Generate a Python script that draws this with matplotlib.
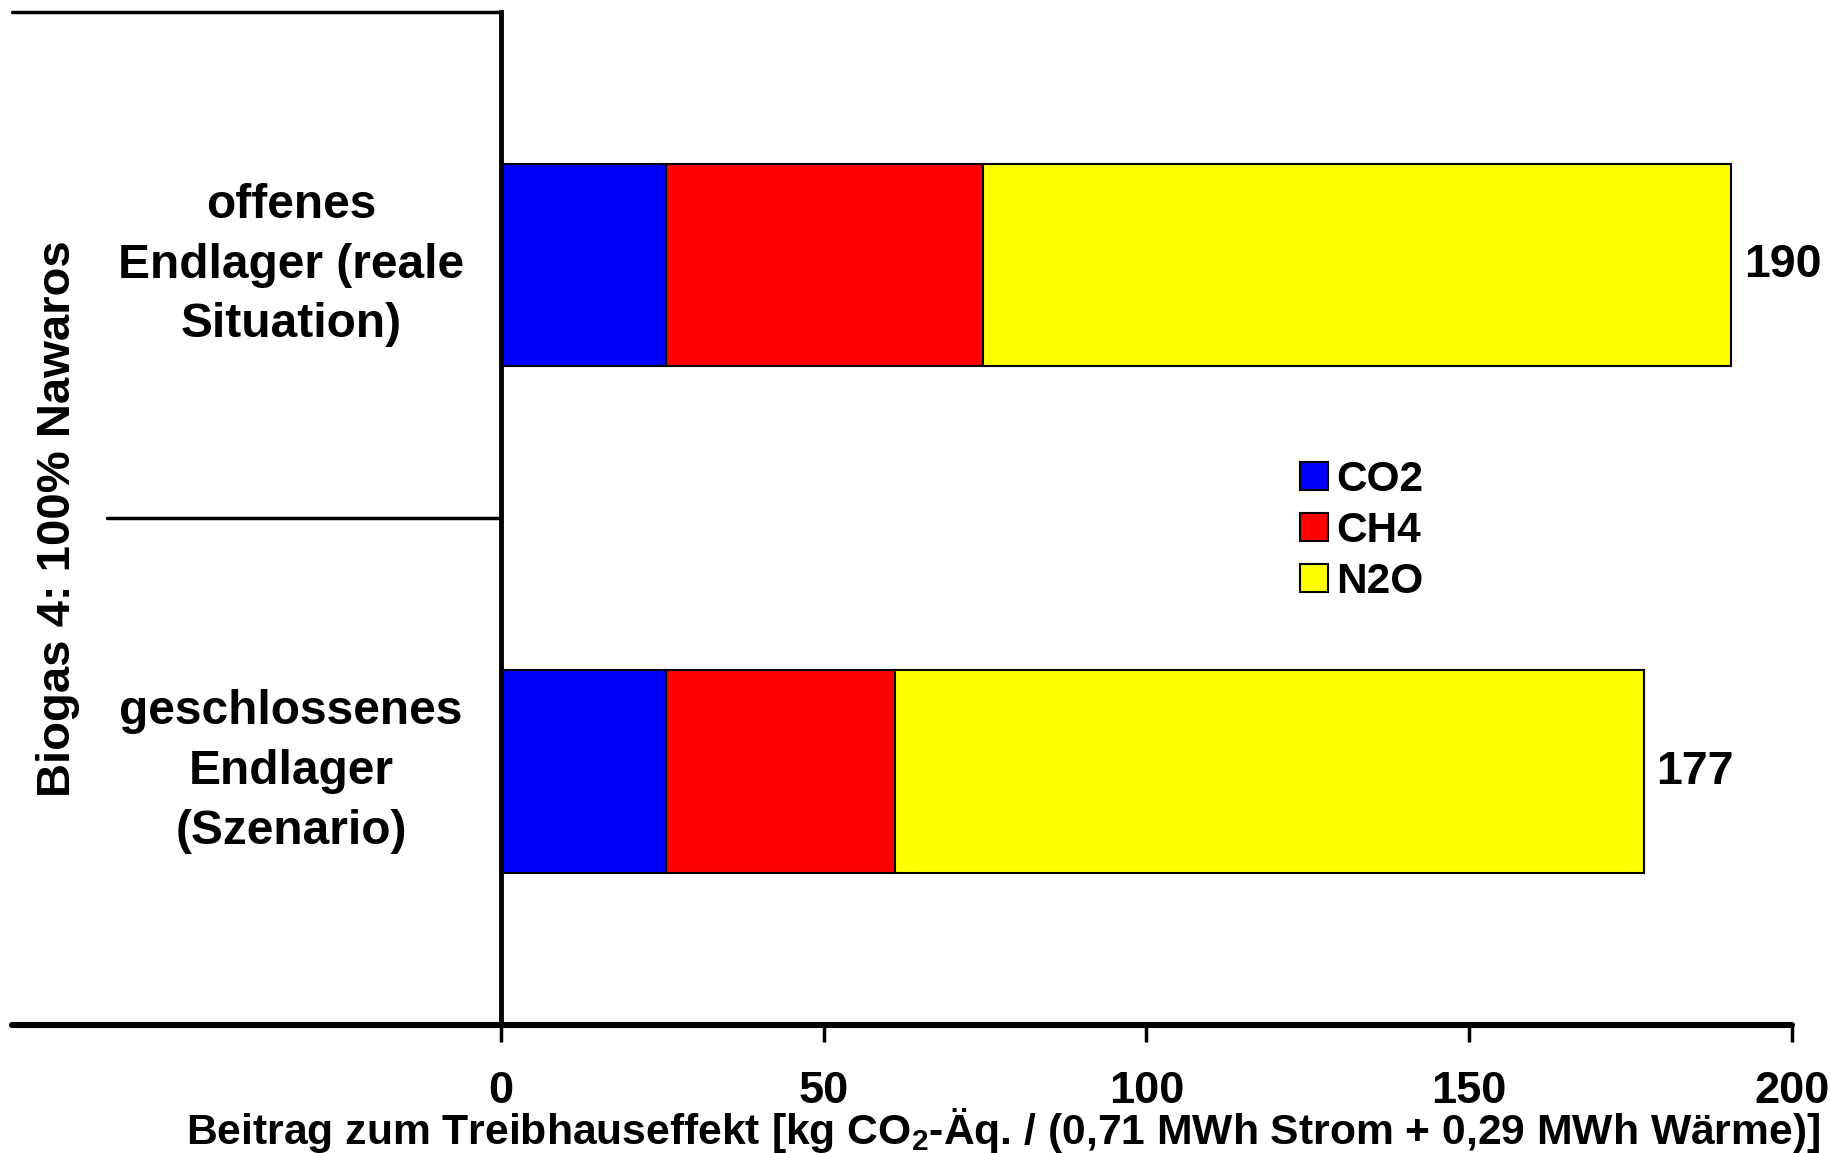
import numpy as np
import matplotlib.pyplot as plt

plt.rcParams['font.family'] = ['Liberation Sans', 'DejaVu Sans']
plt.rcParams['font.weight'] = 'bold'
plt.rcParams['mathtext.fontset'] = 'custom'
plt.rcParams['mathtext.rm'] = 'Liberation Sans:bold'
plt.rcParams['mathtext.default'] = 'regular'

# Daten
kategorien = ['offenes\nEndlager (reale\nSituation)',
              'geschlossenes\nEndlager\n(Szenario)']
co2 = [25.6, 25.6]
ch4 = [49.0, 35.4]
n2o = [116.0, 116.0]
summen = [190, 177]
gase = ['CO2', 'CH4', 'N2O']
farben = ['#0000ff', '#ff0000', '#ffff00']
xticks = [0, 50, 100, 150, 200]

fig = plt.figure(figsize=(18.31, 11.53), dpi=100)
ax = fig.add_axes([0.27362, 0.11102, 0.70508, 0.87883])

y = np.arange(len(kategorien))
links = np.zeros(len(kategorien))
for werte, name, farbe in zip([co2, ch4, n2o], gase, farben):
    ax.barh(y, werte, left=links, height=0.4, color=farbe,
            edgecolor='black', linewidth=1.5, label=name)
    links = links + np.array(werte)

# Summenwerte rechts neben den Balken
for yi, s, ende in zip(y, summen, links):
    ax.annotate(str(s), xy=(ende, yi), xytext=(9, 0), textcoords='offset points',
                ha='left', va='center', fontsize=33.5, fontweight='bold')

ax.set_xlim(0, 200)
ax.set_ylim(1.5, -0.5)
ax.set_xticks(xticks)
ax.set_xticklabels([str(t) for t in xticks], fontsize=32.5, fontweight='bold')
ax.tick_params(axis='x', direction='out', length=12, width=2.5, pad=21)
ax.set_yticks([])

for s in ['top', 'right']:
    ax.spines[s].set_visible(False)
ax.spines['left'].set_linewidth(3.5)
ax.spines['bottom'].set_visible(False)

# Linien links (Gruppierung)
ax.plot([-0.3788, 1.0], [0, 0], transform=ax.transAxes, color='black',
        lw=4.4, clip_on=False, solid_capstyle='round')
ax.plot([-0.3788, 0], [1, 1], transform=ax.transAxes, color='black',
        lw=2.5, clip_on=False, solid_capstyle='round')
ax.plot([-0.3052, 0], [0.5, 0.5], transform=ax.transAxes, color='black',
        lw=2.5, clip_on=False, solid_capstyle='round')

# Kategorienbeschriftung
for yi, k in zip(y, kategorien):
    ax.text(-0.1627, yi, k, transform=ax.get_yaxis_transform(),
            ha='center', va='center', fontsize=34.5, fontweight='bold',
            linespacing=1.42)

ax.text(-0.343, 0.5, 'Biogas 4: 100% Nawaros', transform=ax.transAxes,
        rotation=90, ha='center', va='center', fontsize=34, fontweight='bold')

fig.text(0.548, 0.0075,
         'Beitrag zum Treibhauseffekt [kg CO$_2$-Äq. / (0,71 MWh Strom + 0,29 MWh Wärme)]',
         ha='center', va='baseline', fontsize=30.7, fontweight='bold')

ax.legend(loc='center left', bbox_to_anchor=(0.710, 0.5395),
          bbox_transform=fig.transFigure, frameon=False, fontsize=30.5,
          handlelength=0.66, handleheight=0.66, handletextpad=0.2,
          labelspacing=0.26, borderpad=0, borderaxespad=0)

fig.savefig('out.png', dpi=100)
